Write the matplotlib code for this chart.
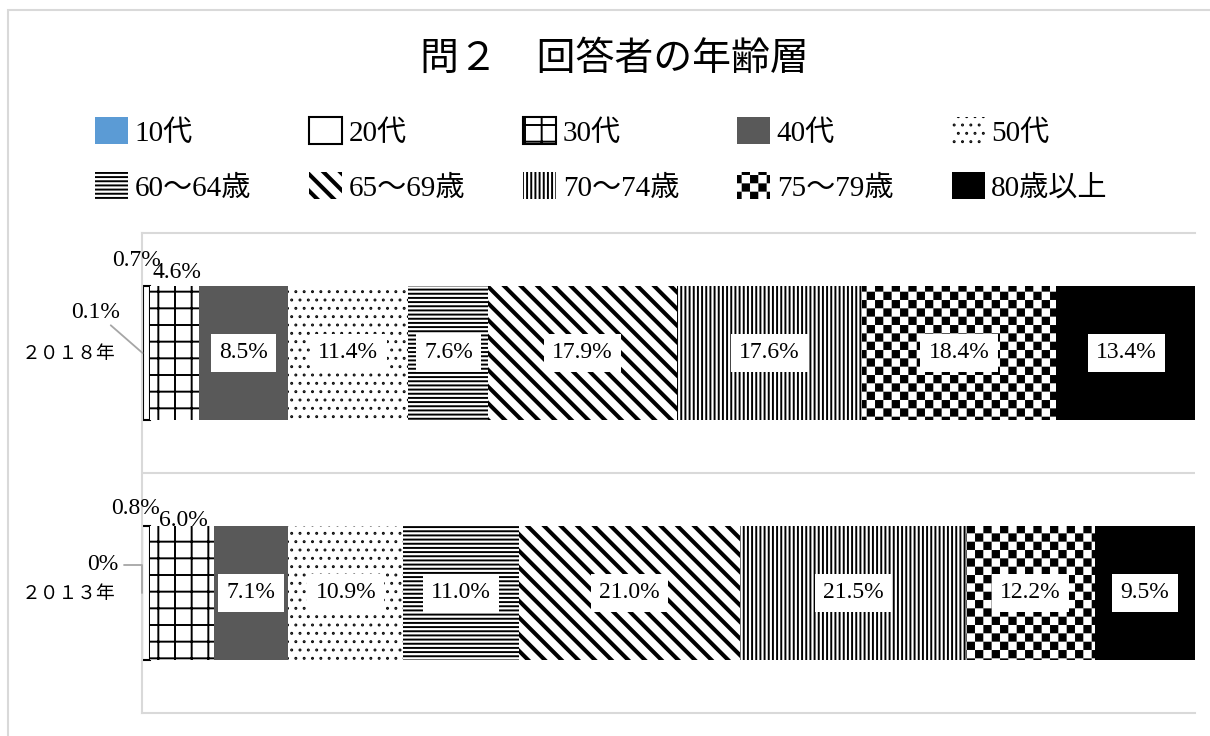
# coding: utf-8

import numpy as np
import matplotlib
matplotlib.use('Agg')
import matplotlib.hatch as mhatch

from matplotlib         import pyplot as plt
from matplotlib.path    import Path
from matplotlib.patches import Patch, Rectangle


## data
years  = ['２０１８年', '２０１３年']
groups = ['10代', '20代', '30代', '40代', '50代',
          '60～64歳', '65～69歳', '70～74歳', '75～79歳', '80歳以上']
share_2018 = [0.1, 0.7, 4.6, 8.5, 11.4, 7.6, 17.9, 17.6, 18.4, 13.4]
share_2013 = [0.0, 0.8, 6.0, 7.1, 10.9, 11.0, 21.0, 21.5, 12.2, 9.5]
shares = [share_2018, share_2013]

SQUARE = [Path.MOVETO, Path.LINETO, Path.LINETO, Path.LINETO, Path.CLOSEPOLY]


## checkerboard fill: '*' (stars) is not used here, so re-use it
class CheckerHatch(mhatch.HatchPatternBase):
    def __init__(self, hatch, density):
        self.num_cells = hatch.count('*') * density * 2
        self.num_vertices = self.num_cells ** 2 // 2 * 5

    def set_vertices_and_codes(self, vertices, codes):
        n = self.num_cells
        s = 1.0 / n
        d = 0.01  # stroke makes the squares a bit larger
        square = np.array([[d, d], [s - d, d], [s - d, s - d], [d, s - d], [d, d]])
        parts = [square + [i * s, j * s]
                 for i in range(n) for j in range(n) if (i + j) % 2 == 0]
        vertices[:] = np.concatenate(parts)
        codes[:] = np.tile(SQUARE, len(parts))


## thick '\' stripes (Excel "wide downward diagonal")
class ThickSouthEastHatch(mhatch.HatchPatternBase):
    def __init__(self, hatch, density):
        self.num_lines = int(hatch.count('\\') * density * 2)
        self.num_vertices = (self.num_lines + 1) * 5 if self.num_lines else 0

    def set_vertices_and_codes(self, vertices, codes):
        w = 0.03
        steps = np.linspace(-0.5, 0.5, self.num_lines + 1)
        band = np.array([[0.0, 1.0], [1.0, 0.0], [1.0 + w, 0.0], [w, 1.0], [0.0, 1.0]])
        vertices[:] = np.concatenate([band + s for s in steps])
        codes[:] = np.tile(SQUARE, len(steps))


swap = {mhatch.Stars: CheckerHatch, mhatch.SouthEastHatch: ThickSouthEastHatch}
mhatch._hatch_types = [swap.get(t, t) for t in mhatch._hatch_types]
mhatch.SmallFilledCircles.size = 0.06

plt.rcParams['font.family'] = ['Liberation Serif', 'Noto Sans CJK JP']
plt.rcParams['hatch.linewidth'] = 1.4

# facecolor, hatch, edge width
styles = [('#5b9bd5', None, 0),
          ('white', None, 1.5),
          ('white', '+', 0),
          ('#595959', None, 0),
          ('white', '..', 0),
          ('white', '----', 0),
          ('white', '\\', 0),
          ('white', '||||', 0),
          ('white', '*', 0),
          ('black', None, 0)]

fig = plt.figure(figsize=(12.1, 7.36), dpi=100)
ax = fig.add_axes([142 / 1210, 1 - 713 / 736, 1053 / 1210, 480 / 736])

ypos = np.arange(len(years))
lefts = np.zeros(len(years))
for g, (fc, hatch, lw) in enumerate(styles):
    vals = np.array([s[g] for s in shares])
    ax.barh(ypos, vals, left=lefts, height=0.56, color=fc,
            edgecolor='black', linewidth=lw, hatch=hatch, zorder=2)
    # labels inside the bigger segments
    if g >= 3:
        for y, l, v in zip(ypos, lefts, vals):
            ax.text(l + v / 2, y, '{:.1f}%'.format(v), ha='center', va='center',
                    fontsize=17, zorder=4,
                    bbox=dict(boxstyle='square,pad=0.35', fc='white', ec='none'))
    lefts += vals

# small segments: labels placed by hand (offset in pixels)
small = {(0, 0): (-47, 41), (0, 1): (-10, 92), (0, 2): (2, 80),
         (1, 0): (-39, 28), (1, 1): (-11, 85), (1, 2): (1, 73)}
for (i, g), off in small.items():
    v = shares[i][g]
    left = sum(shares[i][:g])
    txt = '0%' if v == 0 else '{:.1f}%'.format(v)
    arrow = None
    if g == 0 and i == 0:
        arrow = dict(arrowstyle='-', color='#a6a6a6', lw=1.3, shrinkA=0, shrinkB=0)
    elif g == 0:
        arrow = dict(arrowstyle='-', color='#a6a6a6', lw=1.3, shrinkA=2, shrinkB=0,
                     connectionstyle='angle,angleA=0,angleB=90,rad=0')
    ax.annotate(txt, xy=(left + v / 2, ypos[i]), xytext=off,
                textcoords='offset pixels', ha='center', va='center',
                fontsize=17, arrowprops=arrow, zorder=5, annotation_clip=False)

ax.set_xlim(0, 100)
ax.set_ylim(ypos[-1] + 0.5, ypos[0] - 0.5)
ax.set_xticks([])
ax.set_yticks(ypos)
ax.set_yticklabels(years, fontsize=13.5)
ax.set_yticks(ypos[:-1] + 0.5, minor=True)
ax.tick_params(axis='y', which='both', length=0, pad=19)
ax.grid(which='minor', axis='y', color='#d9d9d9', lw=1.5)
ax.set_axisbelow(True)
for side in ['left', 'top', 'bottom']:
    ax.spines[side].set_color('#d9d9d9')
    ax.spines[side].set_linewidth(1.5)
ax.spines['right'].set_visible(False)

## legend, row by row
handles = []
for g, (fc, hatch, lw) in enumerate(styles):
    edge = 1.5 if g in (1, 2) else 0
    handles.append(Patch(facecolor=fc, edgecolor='black', hatch=hatch, linewidth=edge))
order = [0, 5, 1, 6, 2, 7, 3, 8, 4, 9]
fig.legend([handles[k] for k in order], [groups[k] for k in order],
           ncol=5, loc='upper left', bbox_to_anchor=(95 / 1210, 1 - 117 / 736),
           frameon=False, fontsize=21, handlelength=1.13, handleheight=1.06,
           handletextpad=0.22, columnspacing=2.0, labelspacing=0.87,
           borderpad=0, borderaxespad=0)

fig.text(614 / 1210, 1 - 60 / 736, '問２　回答者の年齢層', ha='center', va='center',
         fontsize=28)

# chart frame
fig.patches.append(Rectangle((8 / 1210, -0.1), 1.2, 1.1 - 10 / 736,
                             transform=fig.transFigure, fill=False,
                             edgecolor='#d9d9d9', linewidth=1.5))

fig.savefig('out.png', dpi=100)
